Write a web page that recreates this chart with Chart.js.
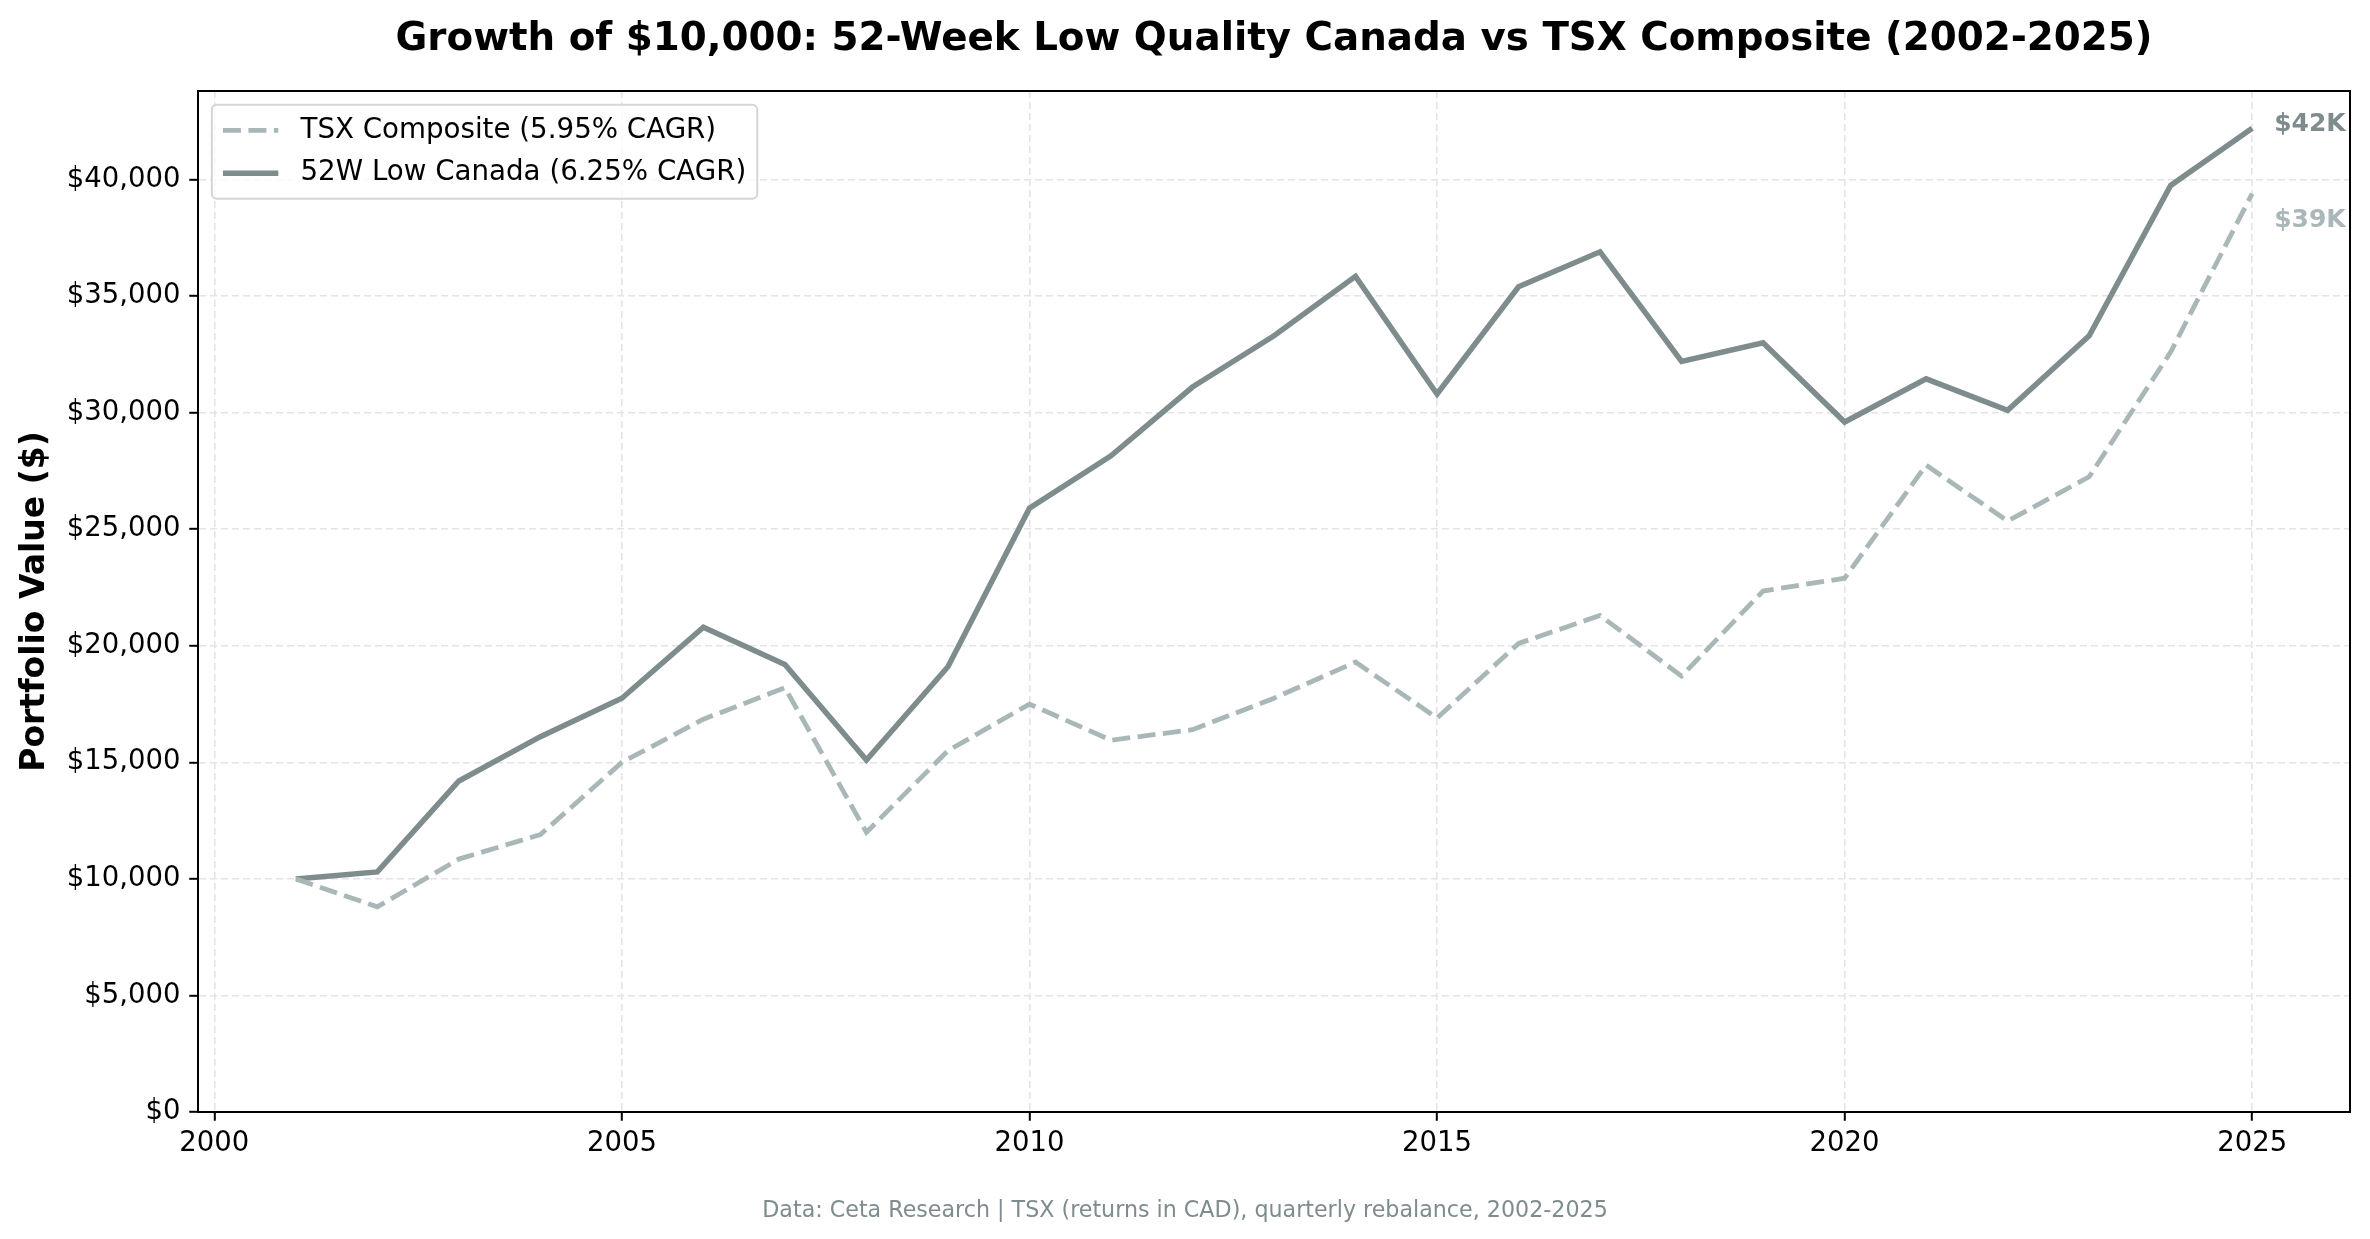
<!DOCTYPE html>
<html>
<head>
<meta charset="utf-8">
<script src="https://cdn.jsdelivr.net/npm/chart.js@4.4.1/dist/chart.umd.min.js"></script>
<style>
  html, body { margin: 0; padding: 0; background: #fff; }
  #wrap { width: 2370px; height: 1239px; }
</style>
</head>
<body>
<div id="wrap"><canvas id="growthChart" width="2370" height="1239"></canvas></div>
<script>
// Growth of $10,000 — 52W Low Quality Canada vs TSX Composite
const years = [2001, 2002, 2003, 2004, 2005, 2006, 2007, 2008, 2009, 2010, 2011, 2012, 2013,
  2014, 2015, 2016, 2017, 2018, 2019, 2020, 2021, 2022, 2023, 2024, 2025];
const tsxValues = [10000, 8800, 10850, 11900, 15000, 16850, 18200, 12000, 15500, 17500, 15950, 16400, 17750,
  19300, 16900, 20100, 21300, 18700, 22350, 22900, 27750, 25350, 27250, 32600, 39400];
const lowValues = [10000, 10300, 14200, 16100, 17750, 20800, 19200, 15100, 19100, 25900, 28150, 31100, 33300,
  35850, 30800, 35400, 36900, 32200, 33000, 29600, 31450, 30100, 33300, 39750, 42200];
const seriesLabels = ['TSX Composite (5.95% CAGR)', '52W Low Canada (6.25% CAGR)'];
const xTicks = [2000, 2005, 2010, 2015, 2020, 2025];
const yTicks = [0, 5000, 10000, 15000, 20000, 25000, 30000, 35000, 40000];

const TITLE = 'Growth of $10,000: 52-Week Low Quality Canada vs TSX Composite (2002-2025)';
const FOOT = 'Data: Ceta Research | TSX (returns in CAD), quarterly rebalance, 2002-2025';
const FONT = "'DejaVu Sans', 'Liberation Sans', sans-serif";
const C_LOW = '#7f8c8d';
const C_TSX = '#aab7b8';

Chart.defaults.font.family = FONT;
Chart.defaults.color = '#000';

const toPts = (vals) => years.map((y, i) => ({ x: y, y: vals[i] }));
const fmtUSD = (v) => '$' + Number(v).toLocaleString('en-US');

// frame (top/right spines) + end-of-line labels, title, footnote, legend
const decor = {
  id: 'decor',
  afterDatasetsDraw(chart) {
    const { ctx, chartArea: a, scales } = chart;
    ctx.save();
    ctx.font = "bold 25px " + FONT;
    ctx.textAlign = 'left';
    ctx.textBaseline = 'middle';
    const ends = [
      { v: lowValues[lowValues.length - 1], c: C_LOW, dy: -4 },
      { v: tsxValues[tsxValues.length - 1], c: C_TSX, dy: 27 },
    ];
    const xe = scales.x.getPixelForValue(years[years.length - 1]);
    ends.forEach((e) => {
      ctx.fillStyle = e.c;
      ctx.fillText('$' + Math.round(e.v / 1000) + 'K', xe + 22, scales.y.getPixelForValue(e.v) + e.dy);
    });
    ctx.strokeStyle = '#000';
    ctx.lineWidth = 2;
    ctx.strokeRect(a.left, a.top, a.right - a.left, a.bottom - a.top);
    ctx.restore();
  },
  afterDraw(chart) {
    const { ctx, chartArea: a } = chart;
    ctx.save();
    ctx.fillStyle = '#000';
    ctx.font = "bold 38.8px " + FONT;
    ctx.textAlign = 'center';
    ctx.textBaseline = 'middle';
    ctx.fillText(TITLE, (a.left + a.right) / 2, 40);
    ctx.fillStyle = '#7f8c8d';
    ctx.font = "22.2px " + FONT;
    ctx.fillText(FOOT, 1185, 1211);

    // legend box (matplotlib-like)
    const fs = 27.7;
    ctx.font = fs + 'px ' + FONT;
    const bx = a.left + 0.5 * fs, by = a.top + 0.5 * fs;
    const pad = 0.4 * fs, hl = 2 * fs, htp = 0.8 * fs, rowH = 29, gap = 0.5 * fs;
    const tw = Math.max(...seriesLabels.map((s) => ctx.measureText(s).width));
    const bw = pad + hl + htp + tw + pad;
    const bh = pad * 2 + rowH * 2 + gap;
    ctx.beginPath();
    ctx.roundRect(bx, by, bw, bh, 5);
    ctx.fillStyle = 'rgba(255,255,255,0.8)';
    ctx.fill();
    ctx.strokeStyle = '#d5d5d5';
    ctx.lineWidth = 2;
    ctx.stroke();
    chart.data.datasets.forEach((ds, i) => {
      const cy = by + pad + rowH / 2 + i * (rowH + gap);
      ctx.beginPath();
      ctx.setLineDash(ds.borderDash || []);
      ctx.strokeStyle = ds.borderColor;
      ctx.lineWidth = ds.borderWidth;
      ctx.moveTo(bx + pad, cy);
      ctx.lineTo(bx + pad + hl, cy);
      ctx.stroke();
      ctx.setLineDash([]);
      ctx.fillStyle = '#000';
      ctx.textAlign = 'left';
      ctx.fillText(ds.label, bx + pad + hl + htp, cy);
    });
    ctx.restore();
  },
};

new Chart(document.getElementById('growthChart'), {
  type: 'line',
  data: {
    datasets: [
      { label: seriesLabels[0], data: toPts(tsxValues), borderColor: C_TSX, borderWidth: 4.8,
        borderDash: [18, 7.5], pointRadius: 0, tension: 0, fill: false },
      { label: seriesLabels[1], data: toPts(lowValues), borderColor: C_LOW, borderWidth: 5.5,
        pointRadius: 0, tension: 0, fill: false },
    ],
  },
  options: {
    responsive: false,
    animation: false,
    devicePixelRatio: 1,
    layout: { padding: { top: 91, right: 20, left: 0, bottom: 0 } },
    plugins: { legend: { display: false }, title: { display: false }, tooltip: { enabled: false } },
    scales: {
      x: {
        type: 'linear', min: 1999.8, max: 2026.2,
        afterBuildTicks: (s) => { s.ticks = xTicks.map((v) => ({ value: v })); },
        afterFit: (s) => { s.height = 127; },
        ticks: { font: { size: 27.5 }, color: '#000', padding: 7, maxRotation: 0, callback: (v) => String(v) },
        grid: { color: '#e4e4e4', lineWidth: 1.6, tickLength: 8.75, tickColor: '#000', tickWidth: 2, tickBorderDash: [] },
        border: { display: true, color: '#000', width: 2, dash: [7, 4] },
      },
      y: {
        type: 'linear', min: 0, max: 43800,
        afterBuildTicks: (s) => { s.ticks = yTicks.map((v) => ({ value: v })); },
        afterFit: (s) => { s.width = 198; },
        ticks: { font: { size: 27.5 }, color: '#000', padding: 8.75, callback: (v) => fmtUSD(v) },
        grid: { color: '#e4e4e4', lineWidth: 1.6, tickLength: 8.75, tickColor: '#000', tickWidth: 2, tickBorderDash: [] },
        border: { display: true, color: '#000', width: 2, dash: [7, 4] },
        title: { display: true, text: 'Portfolio Value ($)', font: { size: 33, weight: 'bold' }, color: '#000',
          padding: { top: 16, bottom: 0 } },
      },
    },
  },
  plugins: [decor],
});
</script>
</body>
</html>
